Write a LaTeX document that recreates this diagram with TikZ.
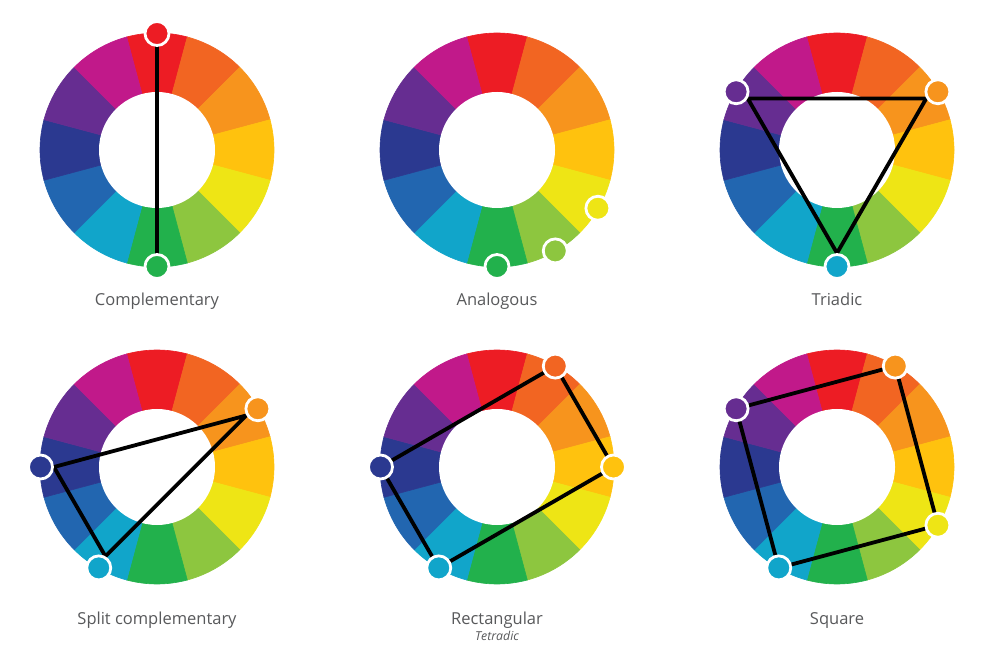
\documentclass[tikz,border=0pt]{standalone}
\usepackage{fontspec}
\setmainfont{Open Sans}
\usetikzlibrary{calc}
\pgfdeclarelayer{wheel}
\pgfdeclarelayer{lines}
\pgfsetlayers{wheel,lines,main}
\definecolor{c0}{HTML}{ED1C24}
\definecolor{c1}{HTML}{F26522}
\definecolor{c2}{HTML}{F7941D}
\definecolor{c3}{HTML}{FFC20E}
\definecolor{c4}{HTML}{EEE515}
\definecolor{c5}{HTML}{8DC63F}
\definecolor{c6}{HTML}{22B14C}
\definecolor{c7}{HTML}{11A5CA}
\definecolor{c8}{HTML}{2266B0}
\definecolor{c9}{HTML}{2B3990}
\definecolor{c10}{HTML}{662D91}
\definecolor{c11}{HTML}{C1198A}
\definecolor{txt}{HTML}{58595B}
\tikzset{
  dot/.style={circle, draw=white, line width=2.8pt, minimum size=24pt, inner sep=0pt, fill=#1},
  link/.style={line width=3.8pt, draw=black, line join=round},
  lbl/.style={anchor=base, text=txt, font=\fontsize{16.5}{20}\selectfont, inner sep=0pt},
  sublbl/.style={anchor=base, text=txt, font=\fontsize{12.3}{14}\selectfont\itshape, inner sep=0pt},
}
\newcommand\colwheel[1]{%
  \begin{pgfonlayer}{wheel}
  \foreach \i in {0,...,11}{
    \pgfmathsetmacro\a{90-30*\i}
    \fill[fill=c\i, draw=c\i, line width=0.6pt] (#1) -- ([shift={(\a-15:117pt)}]#1) arc[start angle=\a-15, end angle=\a+15, radius=117pt] -- cycle;
  }
  \fill[white] (#1) circle (58pt);
  \end{pgfonlayer}
}
\begin{document}
\begin{tikzpicture}[x=1pt,y=1pt]
\useasboundingbox (0,0) rectangle (1000,664);
\begin{pgfonlayer}{wheel}
\fill[white] (0,0) rectangle (1000,664);
\end{pgfonlayer}
\coordinate (w1) at (157,514);
\coordinate (w2) at (497,514);
\coordinate (w3) at (837,514);
\coordinate (w4) at (157,197);
\coordinate (w5) at (497,197);
\coordinate (w6) at (837,197);
\colwheel{w1}\colwheel{w2}\colwheel{w3}\colwheel{w4}\colwheel{w5}\colwheel{w6}
% Complementary
\node[dot=c0] (d1a) at ([shift={(90:116.5pt)}]w1) {};
\node[dot=c6] (d1b) at ([shift={(-90:116.5pt)}]w1) {};
% Analogous
\node[dot=c6] (d2a) at ([shift={(-90:116.5pt)}]w2) {};
\node[dot=c5] (d2b) at ([shift={(-60:116.5pt)}]w2) {};
\node[dot=c4] (d2c) at ([shift={(-30:116.5pt)}]w2) {};
% Triadic
\node[dot=c10] (d3a) at ([shift={(150:116.5pt)}]w3) {};
\node[dot=c2] (d3b) at ([shift={(30:116.5pt)}]w3) {};
\node[dot=c7] (d3c) at ([shift={(-90:116.5pt)}]w3) {};
% Split complementary
\node[dot=c9] (d4a) at ([shift={(180:116.5pt)}]w4) {};
\node[dot=c2] (d4b) at ([shift={(30:116.5pt)}]w4) {};
\node[dot=c7] (d4c) at ([shift={(-120:116.5pt)}]w4) {};
% Rectangular
\node[dot=c1] (d5a) at ([shift={(60:116.5pt)}]w5) {};
\node[dot=c3] (d5b) at ([shift={(0:116.5pt)}]w5) {};
\node[dot=c7] (d5c) at ([shift={(-120:116.5pt)}]w5) {};
\node[dot=c9] (d5d) at ([shift={(180:116.5pt)}]w5) {};
% Square
\node[dot=c10] (d6a) at ([shift={(150:116.5pt)}]w6) {};
\node[dot=c2] (d6b) at ([shift={(60:116.5pt)}]w6) {};
\node[dot=c4] (d6c) at ([shift={(-30:116.5pt)}]w6) {};
\node[dot=c7] (d6d) at ([shift={(-120:116.5pt)}]w6) {};
\begin{pgfonlayer}{lines}
\draw[link] (d1a.center) -- (d1b.center);
\draw[link] (d3a.-30) -- (d3b.210) -- (d3c.90) -- cycle;
\draw[link] (d4a.0) -- (d4b.210) -- (d4c.60) -- cycle;
\draw[link] (d5a.center) -- (d5b.center) -- (d5c.center) -- (d5d.center) -- cycle;
\draw[link] (d6a.center) -- (d6b.center) -- (d6c.center) -- (d6d.center) -- cycle;
\end{pgfonlayer}
% labels
\node[lbl] (t1) at (157,358.3) {Complementary};
\node[lbl] (t2) at (497,358.3) {Analogous};
\node[lbl] (t3) at (837,358.3) {Triadic};
\node[lbl] (t4) at (157,40) {Split complementary};
\node[lbl] (t5) at (497,40) {Rectangular};
\node[sublbl] (t5s) at (497,23.3) {Tetradic};
\node[lbl] (t6) at (837,40) {Square};
\end{tikzpicture}
\end{document}
